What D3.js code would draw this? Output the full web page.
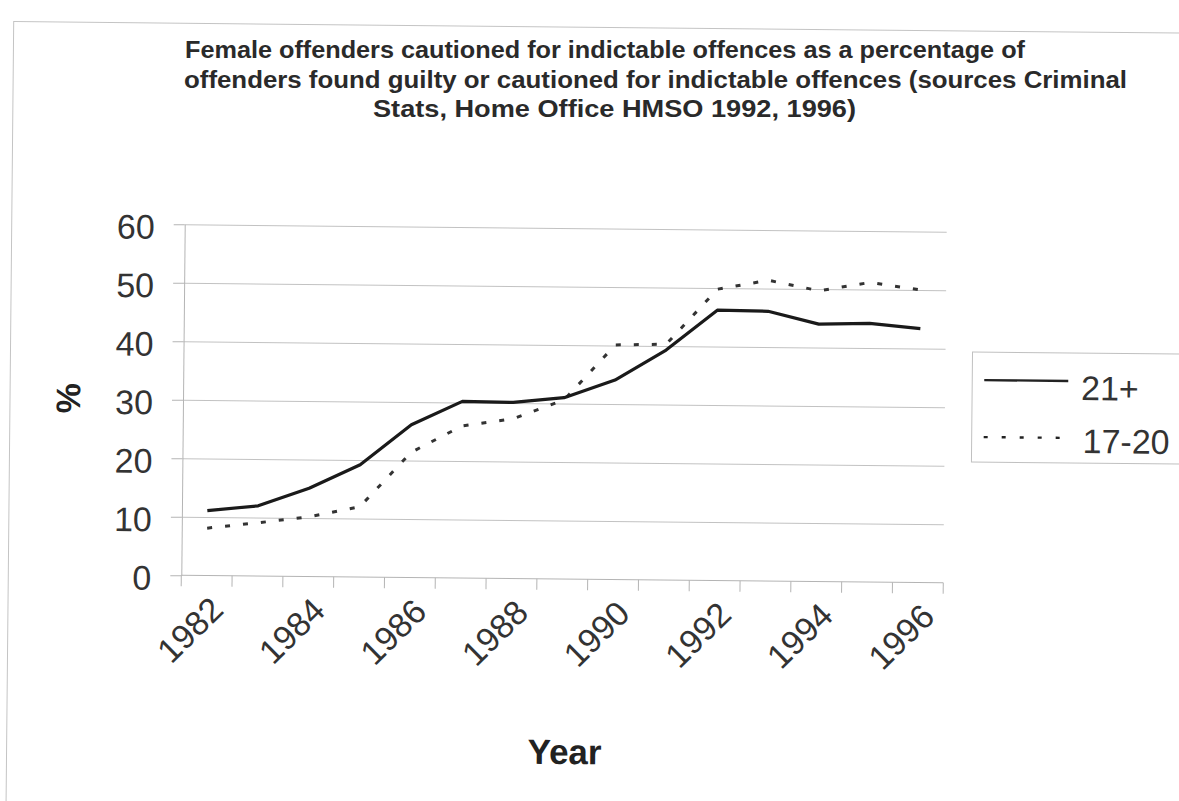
<!DOCTYPE html>
<html>
<head>
<meta charset="utf-8">
<script src="https://cdn.jsdelivr.net/npm/d3@7"></script>
<style>
  body { margin: 0; background: #fff; }
  svg { display: block; }
  text { font-family: "Liberation Sans", Arial, sans-serif; }
</style>
</head>
<body>
<svg id="chart" width="1179" height="801"></svg>
<script>
// Years on the category axis
const years = [1982, 1983, 1984, 1985, 1986, 1987, 1988, 1989, 1990, 1991, 1992, 1993, 1994, 1995, 1996];
// Years that carry a label (every other category)
const yearLabels = [1982, 1984, 1986, 1988, 1990, 1992, 1994, 1996];
// Cautioned as % of found guilty or cautioned, women aged 21 and over
const adults = [11.1, 12.0, 15.1, 19.2, 26.1, 30.2, 30.1, 31.0, 34.1, 39.3, 46.2, 46.1, 44.0, 44.2, 43.4];
// Same measure, women aged 17-20
const young = [8.1, 9.1, 10.2, 12.0, 21.4, 26.0, 27.3, 30.6, 40.1, 40.3, 49.8, 51.4, 49.7, 51.2, 50.0];
const seriesNames = ["21+", "17-20"];
const yTicks = [0, 10, 20, 30, 40, 50, 60];
const titleLines = [
  "Female offenders cautioned for indictable offences as a percentage of",
  "offenders found guilty or cautioned for indictable offences (sources Criminal",
  "Stats, Home Office HMSO 1992, 1996)"
];

const svg = d3.select("#chart");

// title, three lines
const titleSpans = [
  { x0: 185, x1: 1025, base: 58 },
  { x0: 184, x1: 1127, base: 87.5 },
  { x0: 373, x1: 856, base: 116.5 }
];
svg.append("g").selectAll("text").data(titleLines).join("text")
  .attr("x", (d, i) => titleSpans[i].x0)
  .attr("y", (d, i) => titleSpans[i].base)
  .attr("textLength", (d, i) => titleSpans[i].x1 - titleSpans[i].x0)
  .attr("lengthAdjust", "spacingAndGlyphs")
  .attr("font-size", 23)
  .attr("font-weight", "bold")
  .attr("fill", "#2a2a2a")
  .text(d => d);

// the chart body sits very slightly askew
const page = svg.append("g").attr("transform", "rotate(0.56 564 403)");

// outer chart frame
page.append("rect")
  .attr("x", 10).attr("y", 27).attr("width", 1220).attr("height", 820)
  .attr("fill", "none").attr("stroke", "#c4c4c4").attr("stroke-width", 1);

const left = 183, right = 945;
const x = d3.scaleBand().domain(years).range([left, right]).padding(0);
const y = d3.scaleLinear().domain([0, 60]).range([579, 228]);
const cx = d => x(d) + x.bandwidth() / 2;

// horizontal gridlines
page.append("g")
  .attr("transform", `translate(${left},0)`)
  .call(d3.axisLeft(y).tickValues(yTicks.filter(v => v > 0)).tickSize(-(right - left)).tickFormat(""))
  .call(g => g.select(".domain").remove())
  .call(g => g.selectAll(".tick line").attr("stroke", "#c2c2c2").attr("stroke-width", 1));

// value axis
page.append("g")
  .attr("transform", `translate(${left},0)`)
  .call(d3.axisLeft(y).tickValues(yTicks).tickSize(11).tickPadding(19).tickSizeOuter(0))
  .call(g => g.select(".domain").attr("stroke", "#b4b4b4"))
  .call(g => g.selectAll(".tick line").attr("stroke", "#b4b4b4"))
  .call(g => g.selectAll(".tick text")
    .attr("font-size", 34).attr("fill", "#333").attr("dy", "0.42em")
    .style("font-family", "'Liberation Sans', Arial, sans-serif"));

// category axis: line, ticks between categories, slanted labels
const xAxis = page.append("g");
xAxis.append("line")
  .attr("x1", left).attr("x2", right).attr("y1", y(0)).attr("y2", y(0))
  .attr("stroke", "#b4b4b4");
xAxis.selectAll("line.tk").data(years.concat(["end"])).join("line")
  .attr("class", "tk")
  .attr("x1", d => d === "end" ? right : x(d))
  .attr("x2", d => d === "end" ? right : x(d))
  .attr("y1", y(0)).attr("y2", y(0) + 11)
  .attr("stroke", "#b4b4b4");
xAxis.selectAll("text").data(yearLabels).join("text")
  .attr("transform", d => `translate(${cx(d) + 19},${y(0) + 36}) rotate(-45)`)
  .attr("text-anchor", "end")
  .attr("font-size", 34)
  .attr("fill", "#333")
  .text(d => d);

// axis titles
page.append("text")
  .attr("x", 568).attr("y", 764)
  .attr("text-anchor", "middle")
  .attr("font-size", 35).attr("font-weight", "bold").attr("fill", "#222")
  .text("Year");
page.append("text")
  .attr("transform", "translate(80,403) rotate(-90)")
  .attr("text-anchor", "middle")
  .attr("font-size", 34).attr("font-weight", "bold").attr("fill", "#222")
  .text("%");

// series lines
const line = d3.line().x((d, i) => cx(years[i])).y(d => y(d));
page.append("path").datum(young)
  .attr("d", line).attr("fill", "none")
  .attr("stroke", "#333").attr("stroke-width", 3)
  .attr("stroke-dasharray", "5,13");
page.append("path").datum(adults)
  .attr("d", line).attr("fill", "none")
  .attr("stroke", "#1a1a1a").attr("stroke-width", 3.2)
  .attr("stroke-linejoin", "round");

// legend
const legend = page.append("g");
legend.append("rect")
  .attr("x", 972).attr("y", 348).attr("width", 260).attr("height", 110)
  .attr("fill", "#fff").attr("stroke", "#c0c0c0");
const legendRows = [
  { name: seriesNames[0], y: 376, dash: null, tx: 1081, base: 395 },
  { name: seriesNames[1], y: 433, dash: "4,14", tx: 1083, base: 448 }
];
legend.selectAll("line").data(legendRows).join("line")
  .attr("x1", 984).attr("x2", 1068)
  .attr("y1", d => d.y).attr("y2", d => d.y)
  .attr("stroke", "#222").attr("stroke-width", 2.4)
  .attr("stroke-dasharray", d => d.dash);
legend.selectAll("text").data(legendRows).join("text")
  .attr("x", d => d.tx).attr("y", d => d.base)
  .attr("font-size", 34).attr("fill", "#333")
  .text(d => d.name);
</script>
</body>
</html>
